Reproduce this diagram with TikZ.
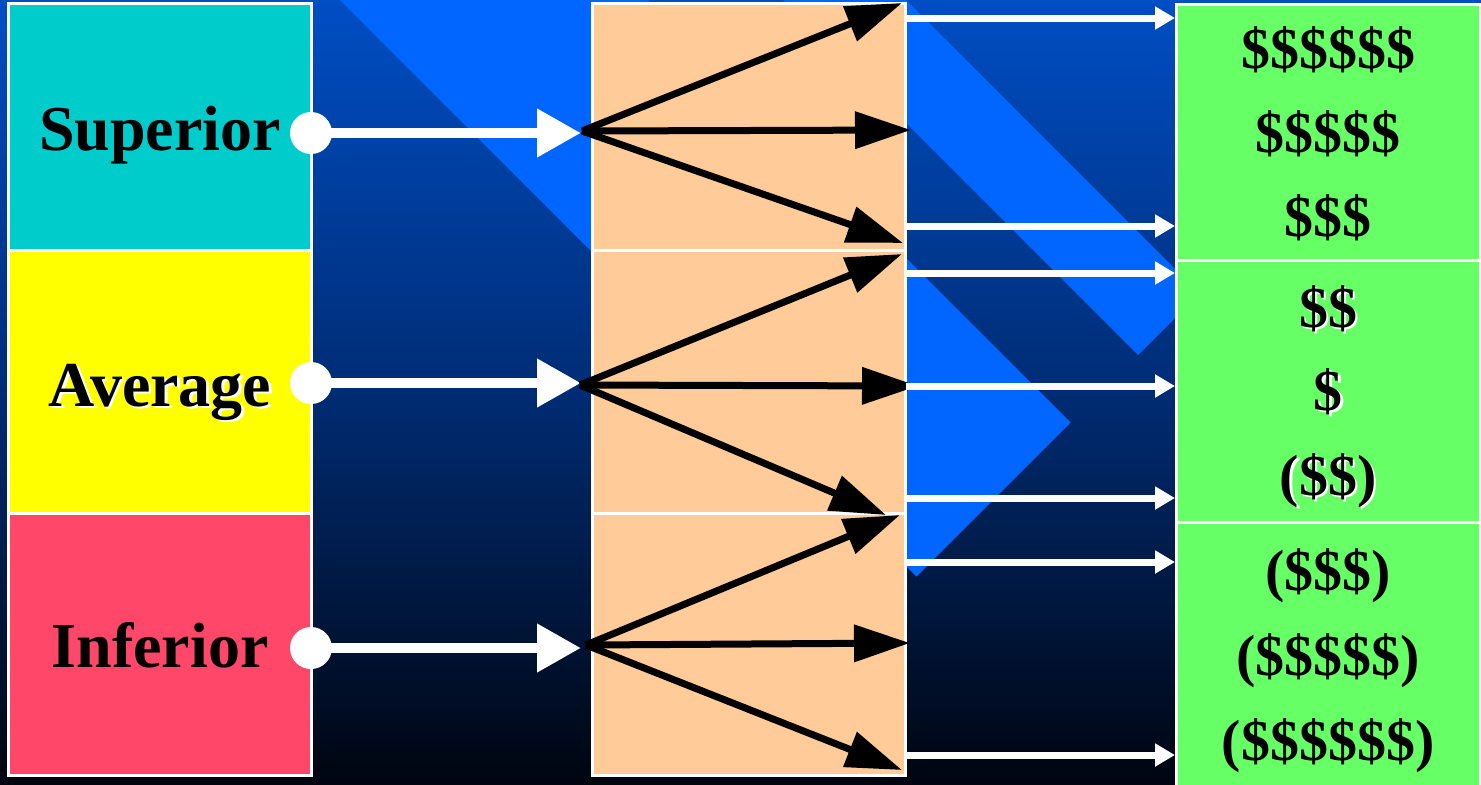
\documentclass[tikz,border=0pt]{standalone}
\usepackage{fontspec}
\setmainfont{Liberation Serif}
\usetikzlibrary{arrows.meta}
\definecolor{bgtop}{HTML}{004EC4}
\definecolor{bgmid}{HTML}{002C74}
\definecolor{bgbot}{HTML}{00050F}
\definecolor{lblue}{HTML}{0066FF}
\definecolor{cyanbox}{HTML}{00CCCC}
\definecolor{yelbox}{HTML}{FFFF00}
\definecolor{pinkbox}{HTML}{FF4769}
\definecolor{orbox}{HTML}{FFCC99}
\definecolor{grbox}{HTML}{66FF66}
\begin{document}
\begin{tikzpicture}[x=0.5pt,y=-0.5pt,
  box/.style={draw=white, line width=1.5pt, inner sep=0pt, outer sep=0pt},
  lcol/.style={box, minimum width=151.5pt},
  ocol/.style={box, fill=orbox, minimum width=156.5pt},
  gcol/.style={box, fill=grbox, minimum width=152pt},
  lbl/.style={font=\fontsize{32}{32}\selectfont\bfseries, inner sep=0pt, anchor=base},
  dol/.style={font=\fontsize{29}{29}\selectfont\bfseries, inner sep=0pt, anchor=base},
  dot/.style={circle, fill=white, minimum size=21pt, inner sep=0pt},
  warrow/.style={white, line width=5.2pt, -{Triangle[length=22pt,width=23pt]}},
  barrow/.style={black, line width=3.5pt, -{Triangle[length=28pt,width=18pt]}},
  tarrow/.style={white, line width=3.5pt, -{Triangle[length=10pt,width=11pt]}}
]
\useasboundingbox (0,0) rectangle (1481,784);
\clip (0,0) rectangle (1481,784);
% background
\shade[top color=bgtop, bottom color=bgmid] (0,0) rectangle (1481,392.5);
\shade[top color=bgmid, bottom color=bgbot] (0,392) rectangle (1481,784);
\fill[lblue] (340,0) -- (648,0) -- (1070.5,422.5) -- (916.5,576.5) -- cycle;
\fill[lblue] (783,0) -- (906,0) -- (1199.5,293.5) -- (1138,355) -- cycle;
% middle column
\node[ocol, minimum height=123.5pt] (o1) at (748.5,126.5) {};
\node[ocol, minimum height=131.5pt] (o2) at (748.5,381.5) {};
\node[ocol, minimum height=131pt] (o3) at (748.5,644) {};
% right column
\node[gcol, minimum height=128pt] (g1) at (1328,132) {};
\node[gcol, minimum height=131pt] (g2) at (1328,391) {};
\node[gcol, minimum height=134pt] (g3) at (1328,656) {};
% left column
\node[lcol, fill=cyanbox, minimum height=123.5pt] (sup) at (159.5,126.5) {};
\node[lcol, fill=yelbox, minimum height=131.5pt] (avg) at (159.5,381.5) {};
\node[lcol, fill=pinkbox, minimum height=131pt] (inf) at (159.5,644) {};
% dots and white arrows
\node[dot] (c1) at (311,133) {};
\node[dot] (c2) at (311,383) {};
\node[dot] (c3) at (311,648) {};
\coordinate (t1) at (581,133);
\coordinate (t2) at (581,383);
\coordinate (t3) at (581,648);
\draw[warrow] (c1.center) -- (t1);
\draw[warrow] (c2.center) -- (t2);
\draw[warrow] (c3.center) -- (t3);
% black arrows
\coordinate (s1) at (582,131);
\coordinate (s2) at (580,385);
\coordinate (s3) at (586,645);
\coordinate (a1) at (902,3);
\coordinate (a2) at (911,130);
\coordinate (a3) at (903,243);
\coordinate (a4) at (902,254);
\coordinate (a5) at (918,386);
\coordinate (a6) at (886,515);
\coordinate (a7) at (900,515);
\coordinate (a8) at (910,643);
\coordinate (a9) at (902,770);
\draw[barrow] (s1) -- (a1);
\draw[barrow] (s1) -- (a2);
\draw[barrow] (s1) -- (a3);
\draw[barrow] (s2) -- (a4);
\draw[barrow] (s2) -- (a5);
\draw[barrow] (s2) -- (a6);
\draw[barrow] (s3) -- (a7);
\draw[barrow] (s3) -- (a8);
\draw[barrow] (s3) -- (a9);
% thin white arrows
\foreach \i/\yy in {1/18,2/226,3/273,4/386,5/498,6/562,7/755} {
  \coordinate (r\i) at (906,\yy);
  \coordinate (q\i) at (1175,\yy);
  \draw[tarrow] (r\i) -- (q\i);
}
% left labels
\node[lbl] (lsup) at (160,150) {Superior};
\node[lbl, text=white] (lavgs) at (162.5,408.5) {Average};
\node[lbl] (lavg) at (160,406) {Average};
\node[lbl] (linf) at (160,667) {Inferior};
% dollar labels
\node[dol] (d1) at (1328,68) {\$\$\$\$\$\$};
\node[dol] (d2) at (1328,152) {\$\$\$\$\$};
\node[dol] (d3) at (1328,236) {\$\$\$};
\node[dol, text=white] (d4s) at (1330.5,329.5) {\$\$};
\node[dol] (d4) at (1328,327) {\$\$};
\node[dol, text=white] (d5s) at (1330.5,412.5) {\$};
\node[dol] (d5) at (1328,410) {\$};
\node[dol, text=white] (d6s) at (1330.5,497.5) {(\$\$)};
\node[dol] (d6) at (1328,495) {(\$\$)};
\node[dol] (d7) at (1328,590) {(\$\$\$)};
\node[dol] (d8) at (1328,675) {(\$\$\$\$\$)};
\node[dol] (d9) at (1328,760) {(\$\$\$\$\$\$)};
\end{tikzpicture}
\end{document}
